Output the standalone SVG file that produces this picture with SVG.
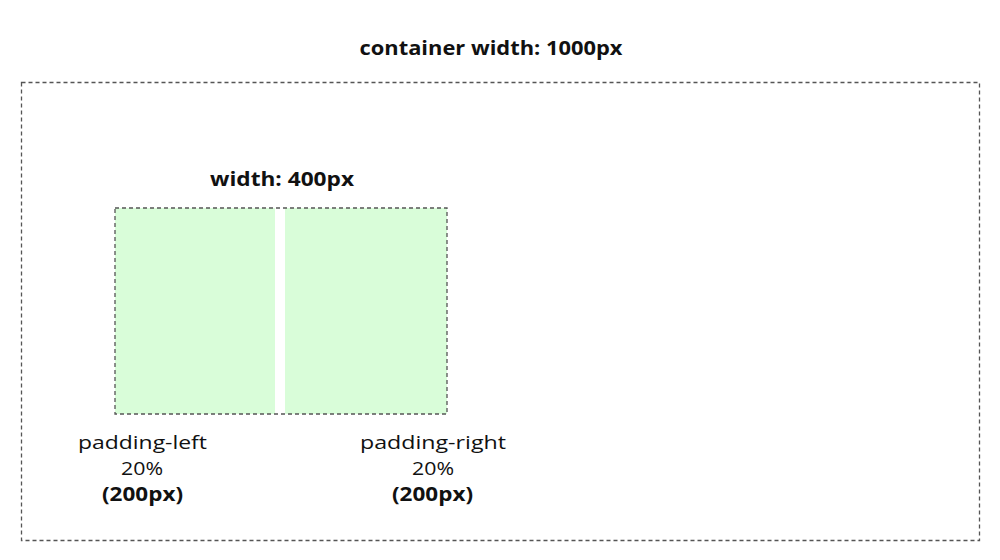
<svg xmlns="http://www.w3.org/2000/svg" width="1000" height="560" viewBox="0 0 1000 560">
<style>
.dash{fill:none;stroke:#555;stroke-width:1.3;stroke-dasharray:4 3}
.t{font-family:"Open Sans","Liberation Sans",sans-serif;font-size:19px;fill:#111;text-anchor:middle}
.b{font-weight:bold}
</style>
<rect width="1000" height="560" fill="#fff"/>
<g id="container">
<rect class="dash" x="21.5" y="82.5" width="958" height="458"/>
<text class="t b" x="491" y="55" font-size="20" textLength="263" lengthAdjust="spacingAndGlyphs">container width: 1000px</text>
</g>
<g id="box">
<rect x="115" y="208" width="332" height="206" fill="#d9fdd9"/>
<rect x="275" y="208" width="10" height="206" fill="#fff"/>
<rect class="dash" x="115" y="208" width="332" height="206"/>
<text class="t b" x="282" y="186" font-size="20" textLength="144" lengthAdjust="spacingAndGlyphs">width: 400px</text>
</g>
<g id="padding-left">
<text class="t" x="142.5" y="449" textLength="129" lengthAdjust="spacingAndGlyphs">padding-left</text>
<text class="t" x="142" y="475" textLength="42" lengthAdjust="spacingAndGlyphs">20%</text>
<text class="t b" x="142.5" y="501" textLength="81" lengthAdjust="spacingAndGlyphs">(200px)</text>
</g>
<g id="padding-right">
<text class="t" x="433" y="449" textLength="146" lengthAdjust="spacingAndGlyphs">padding-right</text>
<text class="t" x="433" y="475" textLength="42" lengthAdjust="spacingAndGlyphs">20%</text>
<text class="t b" x="432.5" y="501" textLength="81" lengthAdjust="spacingAndGlyphs">(200px)</text>
</g>
<g id="connectors"/>
</svg>
